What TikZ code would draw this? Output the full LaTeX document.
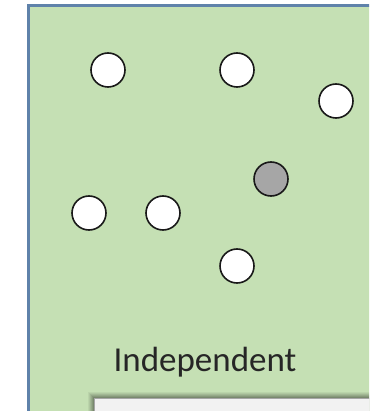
\documentclass[tikz,border=0pt]{standalone}
\usepackage{fontspec}
\setmainfont{Carlito}
\definecolor{panelgreen}{HTML}{C5E0B4}
\definecolor{panelborder}{HTML}{5F82AA}
\definecolor{dotgray}{HTML}{A6A6A6}
\definecolor{boxfill}{HTML}{F2F2F2}
\tikzset{
  dot/.style={circle, draw=black!90, line width=1.6pt, fill=white, minimum size=34pt, inner sep=0pt},
  graydot/.style={dot, fill=dotgray},
  lbl/.style={font=\fontsize{35}{40}\selectfont, text=black!85, inner sep=0pt, anchor=base}
}
\begin{document}
\begin{tikzpicture}[x=1pt,y=-1pt]
\useasboundingbox (0,0) rectangle (369,411);
\clip (0,0) rectangle (369,411);
\fill[white] (0,0) rectangle (369,411);
\draw[panelborder, line width=3pt, fill=panelgreen] (28,6) rectangle (400,440);
% soft shadow of bottom box
\foreach \i/\o in {6/0.05,5/0.06,4/0.07,3/0.08,2/0.09,1/0.1}{
  \fill[black, opacity=\o] (94-\i,398-\i) rectangle (420,450);
}
\draw[gray!70, line width=0.8pt, fill=boxfill] (94,398) rectangle (420,450);
\node[dot] (a) at (108,70) {};
\node[dot] (b) at (237,70) {};
\node[dot] (c) at (336,101) {};
\node[graydot] (d) at (271,179) {};
\node[dot] (e) at (89,213) {};
\node[dot] (f) at (163,213) {};
\node[dot] (g) at (237,266) {};
\node[lbl] (t) at (205,371) {Independent};
\end{tikzpicture}
\end{document}
